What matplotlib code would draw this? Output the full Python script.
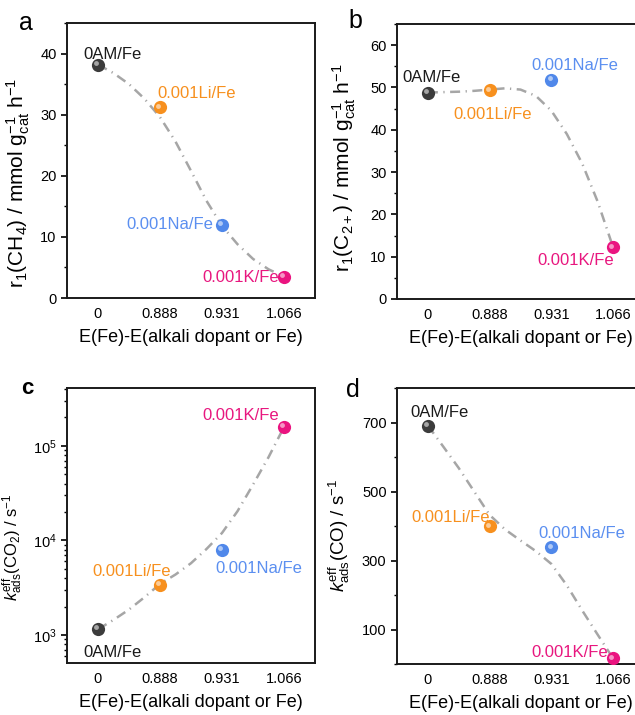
# 4パネル図: r1(CH4), r1(C2+), k_ads(CO2), k_ads(CO)

import numpy as np
import matplotlib
matplotlib.use('Agg')
import matplotlib.pyplot as plt
from matplotlib.ticker import MultipleLocator, LogLocator, NullFormatter
from matplotlib.transforms import offset_copy

plt.rcParams['font.family'] = ['Liberation Sans', 'DejaVu Sans']
plt.rcParams['mathtext.fontset'] = 'custom'
plt.rcParams['mathtext.rm'] = 'Liberation Sans'
plt.rcParams['mathtext.it'] = 'Liberation Sans:italic'
plt.rcParams['mathtext.bf'] = 'Liberation Sans:bold'

# データ
samples = ['0AM/Fe', '0.001Li/Fe', '0.001Na/Fe', '0.001K/Fe']
xticklabels = ['0', '0.888', '0.931', '1.066']
colors = ['#3c3c3c', '#f7901e', '#5088ea', '#ea1480']
text_colors = ['#1a1a1a', '#f7901e', '#5b8ff0', '#e8177f']

r_ch4 = [38.2, 31.2, 12.0, 3.5]
r_c2 = [48.8, 49.3, 51.7, 12.2]
k_co2 = [1150, 3400, 7900, 159000]
k_co = [691, 399, 338, 16]

# 目で読んだガイド線
trend_x = [0, 0.25, 0.5, 0.75, 1, 1.25, 1.5, 1.75, 2, 2.25, 2.5, 2.75, 3]
trend_ch4 = [38.2, 36.8, 35.0, 32.6, 29.6, 25.6, 20.8, 15.9, 11.8, 8.8, 6.4, 4.7, 3.5]
trend_c2 = [48.8, 48.9, 49.0, 49.2, 49.5, 49.8, 49.5, 48.0, 44.5, 39.0, 32.0, 23.0, 12.2]
trend_co2 = [1150, 1445, 1860, 2510, 3470, 4365, 5750, 8130, 12000, 20400, 38900, 75900, 158500]
trend_co = [691, 630, 568, 500, 432, 390, 358, 327, 290, 228, 155, 85, 16]

# ラベル位置 (マーカーからのずれ, px, 上が正)
off_a = [(14, 10), (37, 14), (-52, 0), (-43, -1)]
off_b = [(4, 15), (3, -24), (23, 15), (-37, -13)]
off_c = [(14, -23), (-28, 13), (37, -18), (-43, 11)]
off_d = [(12, 13), (-39, 9), (30, 14), (-43, 6)]

W, H = 635, 715
fig = plt.figure(figsize=(W / 100, H / 100), dpi=100)

def px_axes(left, top, width, height):
    return fig.add_axes([left / W, 1 - (top + height) / H, width / W, height / H])

ax_a = px_axes(67, 23, 248, 275)
ax_b = px_axes(397, 24, 247, 275)
ax_c = px_axes(67, 388, 248, 275)
ax_d = px_axes(397, 388, 247, 276)

def draw(ax, y, trend, offsets, ylab, label_xy, ylab_size):
    x = np.arange(len(samples))
    ax.plot(trend_x, trend, color='#a6a6a6', lw=1.8,
            ls=(0, (4.0, 2.2, 0.5, 2.2)), zorder=1)
    hl = offset_copy(ax.transData, fig=fig, x=-1.8, y=1.8, units='dots')
    for i in range(len(samples)):
        ax.plot(x[i], y[i], 'o', ms=9.5, color=colors[i], mec='none', zorder=3)
        ax.plot(x[i], y[i], 'o', ms=3.5, color='white', alpha=0.55, mec='none',
                transform=hl, zorder=4)
        ax.annotate(samples[i], (x[i], y[i]), xytext=offsets[i],
                    textcoords='offset pixels', ha='center', va='center',
                    fontsize=12, color=text_colors[i], zorder=5)
    ax.set_xlim(-0.5, 3.5)
    ax.set_xticks(x)
    ax.set_xticklabels(xticklabels)
    ax.tick_params(axis='x', length=0, pad=6.5, labelsize=10.5)
    ax.tick_params(axis='y', which='major', direction='out', length=4, width=1.2, labelsize=10.5)
    ax.tick_params(axis='y', which='minor', direction='out', length=2.2, width=1.0)
    for s in ax.spines.values():
        s.set_linewidth(1.4)
        s.set_color('#1a1a1a')
    ax.set_xlabel('E(Fe)-E(alkali dopant or Fe)', fontsize=13, labelpad=6)
    ax.set_ylabel(ylab, fontsize=ylab_size)
    ax.yaxis.set_label_coords(*label_xy)

draw(ax_a, r_ch4, trend_ch4, off_a,
     r'r$_1$(CH$_4$) / mmol g$_{\rm cat}^{-1}$ h$^{-1}$', (-0.141, 0.42), 15)
ax_a.set_ylim(0, 45)
ax_a.yaxis.set_major_locator(MultipleLocator(10))
ax_a.yaxis.set_minor_locator(MultipleLocator(5))

draw(ax_b, r_c2, trend_c2, off_b,
     r'r$_1$(C$_{2+}$) / mmol g$_{\rm cat}^{-1}$ h$^{-1}$', (-0.158, 0.476), 15)
ax_b.set_ylim(0, 65)
ax_b.yaxis.set_major_locator(MultipleLocator(10))
ax_b.yaxis.set_minor_locator(MultipleLocator(5))

draw(ax_c, k_co2, trend_co2, off_c,
     r'$k_{\rm ads}^{\rm eff}$(CO$_2$) / s$^{-1}$', (-0.17, 0.42), 12)
ax_c.set_yscale('log')
ax_c.set_ylim(506, 4.1e5)
ax_c.yaxis.set_major_locator(LogLocator(base=10, numticks=10))
ax_c.yaxis.set_minor_locator(LogLocator(base=10, subs=np.arange(2, 10), numticks=10))
ax_c.yaxis.set_minor_formatter(NullFormatter())
ax_c.set_yticks([1e3, 1e4, 1e5])

draw(ax_d, k_co, trend_co, off_d,
     r'$k_{\rm ads}^{\rm eff}$(CO) / s$^{-1}$', (-0.182, 0.467), 13.5)
ax_d.set_ylim(0, 800)
ax_d.set_yticks([100, 300, 500, 700])
ax_d.yaxis.set_minor_locator(MultipleLocator(100))

# パネル記号
fig.text(26 / W, 1 - 23 / H, 'a', fontsize=18, ha='center', va='center')
fig.text(355 / W, 1 - 21 / H, 'b', fontsize=18, ha='center', va='center')
fig.text(27 / W, 1 - 389 / H, 'c', fontsize=16, fontweight='bold', ha='center', va='center')
fig.text(353 / W, 1 - 390 / H, 'd', fontsize=18, ha='center', va='center')

fig.savefig('out.png', dpi=100)
print('finish successfully')
